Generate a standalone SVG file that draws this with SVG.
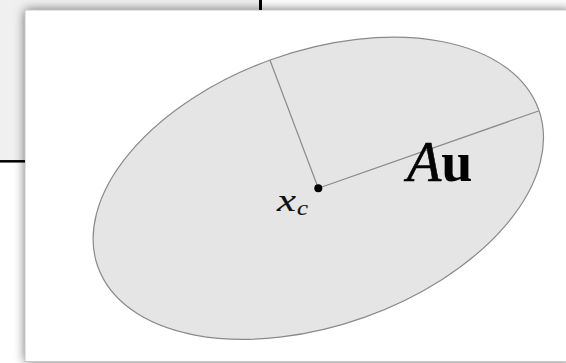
<svg xmlns="http://www.w3.org/2000/svg" width="566" height="363" viewBox="0 0 566 363">
  <style>
    .axis { stroke: #8a8a8a; stroke-width: 1.2; fill: none; }
    .math { font-family: "Liberation Serif", "Times New Roman", serif; fill: #000; }
    .sym { font-family: "Liberation Serif", "Times New Roman", serif; font-style: italic; fill: #111; stroke: #111; stroke-width: 0.15; }
  </style>
  <defs>
    <filter id="shadow" x="-10%" y="-10%" width="120%" height="120%">
      <feDropShadow dx="0" dy="0" stdDeviation="5.5" flood-color="#000" flood-opacity="0.6"/>
    </filter>
  </defs>
  <g id="background">
    <rect x="0" y="0" width="566" height="363" fill="#ffffff"/>
    <rect x="0" y="0" width="260" height="161" fill="#f0f0f0"/>
  </g>
  <g id="panel">
    <rect x="25" y="10" width="545" height="351.5" fill="#ffffff" filter="url(#shadow)"/>
    <rect x="25" y="10" width="545" height="351.5" fill="#ffffff" stroke="#c8c8c8" stroke-width="1"/>
  </g>
  <g id="frame-lines">
    <line x1="260.5" y1="0" x2="260.5" y2="10" stroke="#000" stroke-width="3"/>
    <line x1="0" y1="161.3" x2="25" y2="161.3" stroke="#000" stroke-width="2.5"/>
  </g>
  <g id="ellipse">
    <ellipse cx="318.3" cy="188.3" rx="234" ry="137" transform="rotate(-19.6 318.3 188.3)" fill="#e5e5e5" stroke="#8a8a8a" stroke-width="1.2"/>
  </g>
  <g id="connectors">
    <line class="axis" x1="318.3" y1="188.3" x2="270" y2="60.3"/>
    <line class="axis" x1="318.3" y1="188.3" x2="538.5" y2="111"/>
  </g>
  <g id="center">
    <circle cx="318.3" cy="188.3" r="4" fill="#000"/>
    <text class="sym" x="277" y="211" font-size="31" textLength="19" lengthAdjust="spacingAndGlyphs">x</text>
    <text class="sym" x="297" y="214.5" font-size="21" textLength="11" lengthAdjust="spacingAndGlyphs">c</text>
  </g>
  <g id="label-Au">
    <text class="math" x="407" y="181" font-size="56"><tspan font-style="italic" stroke="#000" stroke-width="0.6">A</tspan><tspan font-weight="bold">u</tspan></text>
  </g>
</svg>
